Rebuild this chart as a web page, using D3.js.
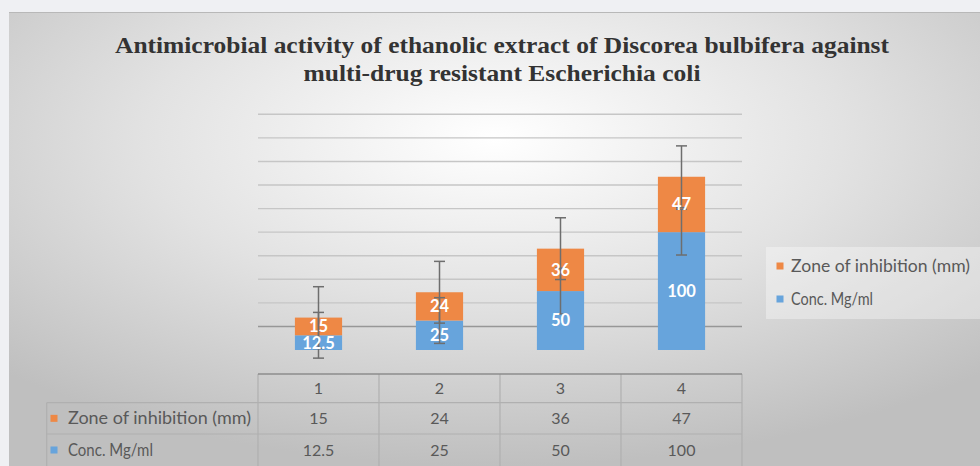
<!DOCTYPE html>
<html>
<head>
<meta charset="utf-8">
<script src="https://cdn.jsdelivr.net/npm/d3@7/dist/d3.min.js"></script>
<style>
html,body{margin:0;padding:0;background:#eff0f3;}
svg{display:block;}
</style>
</head>
<body>
<svg id="chart" width="980" height="466"></svg>
<script>
// ---- data ----
const categories = ["1", "2", "3", "4"];
const seriesNames = ["Zone of inhibition (mm)", "Conc. Mg/ml"];
const zoneValues = [15, 24, 36, 47];
const concValues = [12.5, 25, 50, 100];
const concLabels = ["12.5", "25", "50", "100"];
const zoneLabels = ["15", "24", "36", "47"];
const zoneError = 26.2;   // error bar half-length (stacked series)
const concError = 19.4;   // error bar half-length
const gridTicks = [20, 40, 60, 80, 100, 120, 140, 160, 180, 200];
const titleLines = ["Antimicrobial activity of ethanolic extract of Discorea bulbifera against",
                    "multi-drug resistant Escherichia coli"];

const colors = {zone: "#ee8845", conc: "#67a4dc"};
const W = 980, H = 466;
const svg = d3.select("#chart");

// background gradient
const defs = svg.append("defs");
const rg = defs.append("radialGradient").attr("id", "bg")
  .attr("cx", "50%").attr("cy", "28%").attr("r", "72%");
rg.append("stop").attr("offset", "0%").attr("stop-color", "#ffffff");
rg.append("stop").attr("offset", "50%").attr("stop-color", "#e2e2e2");
rg.append("stop").attr("offset", "100%").attr("stop-color", "#bfbfbf");

svg.append("rect").attr("x", 0).attr("y", 0).attr("width", W).attr("height", H).attr("fill", "#eff0f3");
svg.append("rect").attr("x", 9).attr("y", 12).attr("width", W - 9).attr("height", H - 12).attr("fill", "url(#bg)");
svg.append("line").attr("x1", 9).attr("x2", W).attr("y1", 12.5).attr("y2", 12.5).attr("stroke", "#b8b8b8").attr("stroke-width", 1);

// title
const titleWidths = [774, 397];
svg.selectAll("text.title").data(titleLines).join("text")
  .attr("class", "title")
  .attr("x", 490 + 12).attr("y", (d, i) => 53 + i * 28)
  .attr("text-anchor", "middle")
  .attr("font-family", "Liberation Serif, Times New Roman, serif")
  .attr("font-weight", "bold").attr("font-size", 24)
  .attr("fill", "#333333")
  .attr("textLength", (d, i) => titleWidths[i])
  .attr("lengthAdjust", "spacingAndGlyphs")
  .text(d => d);

// scales
const x = d3.scaleBand().domain(categories).range([258, 742]).paddingInner(0.61).paddingOuter(0.305);
const y = d3.scaleLinear().domain([0, 200]).range([350, 114.3]);

// gridlines
svg.append("g").selectAll("line").data(gridTicks).join("line")
  .attr("x1", 258).attr("x2", 742)
  .attr("y1", d => y(d)).attr("y2", d => y(d))
  .attr("stroke", d => d === 20 ? "#979797" : "#c6c6c6")
  .attr("stroke-width", 1.4);

// stacked bars
const rows = categories.map((c, i) => ({cat: c, conc: concValues[i], zone: zoneValues[i], cl: concLabels[i], zl: zoneLabels[i]}));
const gBars = svg.append("g");
gBars.selectAll("rect.conc").data(rows).join("rect")
  .attr("x", d => x(d.cat)).attr("width", x.bandwidth())
  .attr("y", d => y(d.conc)).attr("height", d => y(0) - y(d.conc))
  .attr("fill", colors.conc);
gBars.selectAll("rect.zone").data(rows).join("rect")
  .attr("x", d => x(d.cat)).attr("width", x.bandwidth())
  .attr("y", d => y(d.conc + d.zone)).attr("height", d => y(d.conc) - y(d.conc + d.zone))
  .attr("fill", colors.zone);

// error bars
const errs = [];
rows.forEach(d => {
  errs.push({cat: d.cat, c: d.conc, e: concError});
  errs.push({cat: d.cat, c: d.conc + d.zone, e: zoneError});
});
const gErr = svg.append("g").attr("stroke", "#6e6e6e").attr("stroke-width", 1.5);
errs.forEach(d => {
  const cx = x(d.cat) + x.bandwidth() / 2;
  gErr.append("line").attr("x1", cx).attr("x2", cx).attr("y1", y(d.c + d.e)).attr("y2", y(d.c - d.e));
  [d.c + d.e, d.c - d.e].forEach(v => {
    gErr.append("line").attr("x1", cx - 5.5).attr("x2", cx + 5.5).attr("y1", y(v)).attr("y2", y(v));
  });
});

// bar labels
const gLab = svg.append("g").attr("font-family", "Lato, Open Sans, sans-serif").attr("font-weight", "bold")
  .attr("font-size", 16.5).attr("fill", "#ffffff").attr("text-anchor", "middle");
gLab.selectAll("text.c").data(rows).join("text")
  .attr("x", d => x(d.cat) + x.bandwidth() / 2)
  .attr("y", d => (y(0) + y(d.conc)) / 2).attr("dy", "0.36em").text(d => d.cl);
gLab.selectAll("text.z").data(rows).join("text")
  .attr("x", d => x(d.cat) + x.bandwidth() / 2)
  .attr("y", d => (y(d.conc) + y(d.conc + d.zone)) / 2).attr("dy", "0.36em").text(d => d.zl);

// data table
const tTop = 374, r1 = 402.7, r2 = 434, tBot = 466;
const tLeft = 46.7, tPlot = 258;
const gT = svg.append("g");
const gridC = "#b0b0b0";
const vx = [tPlot].concat(categories.map(c => x(c) + x.bandwidth() / 2 + x.step() / 2));
gT.selectAll("line.v").data(vx).join("line")
  .attr("x1", d => d).attr("x2", d => d).attr("y1", tTop).attr("y2", tBot)
  .attr("stroke", gridC).attr("stroke-width", 1.2);
gT.append("line").attr("x1", tLeft).attr("x2", tLeft).attr("y1", r1).attr("y2", tBot).attr("stroke", gridC).attr("stroke-width", 1.2);
[r1, r2].forEach(yy => gT.append("line").attr("x1", tLeft).attr("x2", 742).attr("y1", yy).attr("y2", yy).attr("stroke", gridC).attr("stroke-width", 1.2));
gT.append("line").attr("x1", tPlot).attr("x2", 742).attr("y1", tTop).attr("y2", tTop).attr("stroke", "#8c8c8c").attr("stroke-width", 1.6);

const tf = "Lato, Open Sans, sans-serif";
const tcol = "#595959";
const tfs = 16;
gT.selectAll("text.h").data(categories).join("text")
  .attr("x", d => x(d) + x.bandwidth() / 2).attr("y", (tTop + r1) / 2).attr("dy", "0.36em")
  .attr("text-anchor", "middle").attr("font-family", tf).attr("font-size", tfs).attr("fill", tcol).text(d => d);
gT.selectAll("text.z").data(rows).join("text")
  .attr("x", d => x(d.cat) + x.bandwidth() / 2).attr("y", (r1 + r2) / 2).attr("dy", "0.36em")
  .attr("text-anchor", "middle").attr("font-family", tf).attr("font-size", tfs).attr("fill", tcol).text(d => d.zl);
gT.selectAll("text.c").data(rows).join("text")
  .attr("x", d => x(d.cat) + x.bandwidth() / 2).attr("y", (r2 + tBot) / 2).attr("dy", "0.36em")
  .attr("text-anchor", "middle").attr("font-family", tf).attr("font-size", tfs).attr("fill", tcol).text(d => d.cl);
// row headers
const rowHdr = [{name: seriesNames[0], col: colors.zone, yc: (r1 + r2) / 2, w: 183},
                {name: seriesNames[1], col: colors.conc, yc: (r2 + tBot) / 2, w: 85}];
rowHdr.forEach(r => {
  gT.append("rect").attr("x", 50.5).attr("y", r.yc - 3.5).attr("width", 7).attr("height", 7).attr("fill", r.col);
  gT.append("text").attr("x", 68).attr("y", r.yc).attr("dy", "0.36em").attr("font-family", tf).attr("font-size", 17)
    .attr("fill", tcol).attr("textLength", r.w).attr("lengthAdjust", "spacingAndGlyphs").text(r.name);
});

// legend
svg.append("rect").attr("x", 766).attr("y", 247).attr("width", W - 766).attr("height", 72)
  .attr("fill", "#ffffff").attr("opacity", 0.35);
const legItems = [{name: seriesNames[0], col: colors.zone, yc: 266, w: 179},
                  {name: seriesNames[1], col: colors.conc, yc: 299, w: 82}];
legItems.forEach(r => {
  svg.append("rect").attr("x", 776.5).attr("y", r.yc - 3.5).attr("width", 7).attr("height", 7).attr("fill", r.col);
  svg.append("text").attr("x", 791).attr("y", r.yc).attr("dy", "0.36em").attr("font-family", tf).attr("font-size", 16.5)
    .attr("fill", tcol).attr("textLength", r.w).attr("lengthAdjust", "spacingAndGlyphs").text(r.name);
});
</script>
</body>
</html>
